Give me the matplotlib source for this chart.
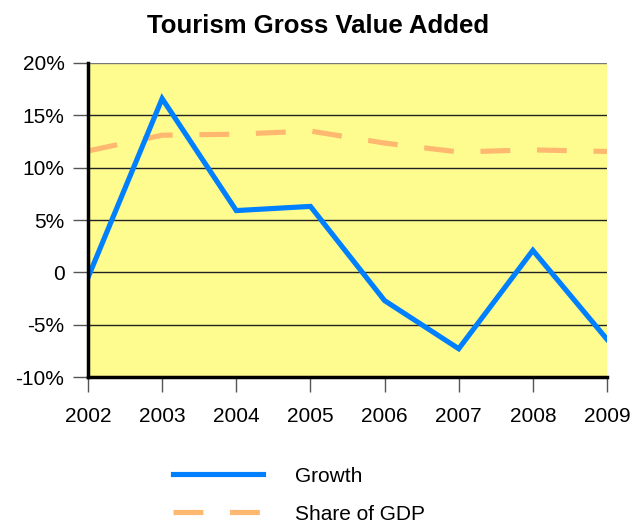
import matplotlib.pyplot as plt
from matplotlib.ticker import FuncFormatter

years = [2002, 2003, 2004, 2005, 2006, 2007, 2008, 2009]
growth = [-0.5, 16.6, 5.9, 6.3, -2.7, -7.3, 2.1, -6.4]
share_gdp = [11.6, 13.1, 13.2, 13.5, 12.35, 11.5, 11.7, 11.55]
y_ticks = [-10, -5, 0, 5, 10, 15, 20]

plt.rcParams['font.family'] = ['Liberation Sans', 'DejaVu Sans']

fig = plt.figure(figsize=(6.37, 5.23), dpi=100)
ax = fig.add_axes([88 / 637, 1 - 377 / 523, 519 / 637, 314 / 523])
ax.set_facecolor('#fefb8f')

for t in y_ticks:
    ax.axhline(t, color='#222222' if t not in (20, -10) else '#777777', lw=1.0, zorder=1)

lw = 3.7
ax.plot(years, share_gdp, color='#ffb870', lw=lw, dashes=(5.8, 5.2),
        solid_capstyle='butt', dash_capstyle='butt', zorder=2, label='Share of GDP')
ax.plot(years, growth, color='#0080ff', lw=lw, solid_joinstyle='miter', zorder=3, label='Growth')

ax.set_xlim(2002, 2009)
ax.set_ylim(-10, 20)
ax.set_xticks(years)
ax.set_yticks(y_ticks)
ax.yaxis.set_major_formatter(FuncFormatter(lambda v, p: '0' if v == 0 else f'{int(v)}%'))
ax.tick_params(axis='both', labelsize=15, length=11, width=1, color='#555555', direction='out')
ax.tick_params(axis='y', pad=6)
ax.tick_params(axis='x', pad=10.5)

ax.spines['top'].set_visible(False)
ax.spines['right'].set_visible(False)
ax.spines['left'].set_linewidth(2.5)
ax.spines['bottom'].set_linewidth(2.5)
ax.spines['left'].set_zorder(4)
ax.spines['bottom'].set_zorder(4)

fig.text(0.5, 1 - 26 / 523, 'Tourism Gross Value Added', ha='center', va='center',
         fontsize=18.5, fontweight='bold')

handles, labels = ax.get_legend_handles_labels()
fig.legend(handles[::-1], labels[::-1], loc='upper left', bbox_to_anchor=(154 / 637, 1 - 448 / 523),
           frameon=False, fontsize=15, handlelength=4.33, handletextpad=1.55, labelspacing=0.9)

fig.savefig('out.png', dpi=100)
